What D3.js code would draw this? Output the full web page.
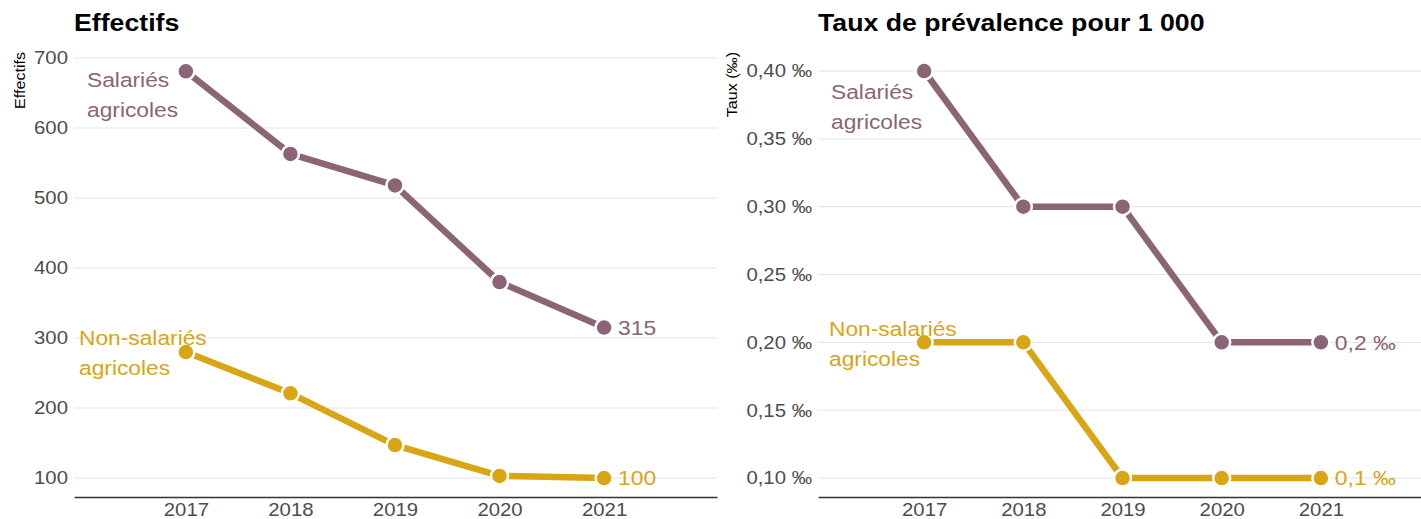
<!DOCTYPE html>
<html>
<head>
<meta charset="utf-8">
<script src="https://cdn.jsdelivr.net/npm/d3@7"></script>
<style>
  body { margin: 0; background: #fff; }
  svg { display: block; font-family: "Liberation Sans", Arial, sans-serif; }
</style>
</head>
<body>
<div id="chart"></div>
<script>
const years = [2017, 2018, 2019, 2020, 2021];

const effSalaries = [681, 563, 518, 380, 315];
const effNonSalaries = [280, 221, 147, 103, 100];
const effTicks = [100, 200, 300, 400, 500, 600, 700];

const tauxSalaries = [0.4, 0.3, 0.3, 0.2, 0.2];
const tauxNonSalaries = [0.2, 0.2, 0.1, 0.1, 0.1];
const tauxTicks = [0.10, 0.15, 0.20, 0.25, 0.30, 0.35, 0.40];

const COLORS = { sal: "#8b6575", non: "#d8a515" };

const width = 1421, height = 519;

const svg = d3.select("#chart").append("svg")
  .attr("width", width)
  .attr("height", height);

const commaFmt = f => v => f(v).replace(".", ",");

// the reference font runs a bit wider than Liberation Sans
function widen (sel, factor) {
  sel.each(function () {
    const len = this.getComputedTextLength();
    d3.select(this)
      .attr("textLength", len * factor)
      .attr("lengthAdjust", "spacingAndGlyphs");
  });
}

function drawPanel (cfg) {
  const g = svg.append("g");

  const x = d3.scaleLinear().domain([2015.93, 2022.08]).range([cfg.left, cfg.right]);
  const y = d3.scaleLinear().domain(cfg.yDomain).range([497, 50]);

  // title
  g.append("text")
    .attr("x", cfg.left)
    .attr("y", 31)
    .attr("font-size", 23)
    .attr("font-weight", "bold")
    .attr("fill", "#000")
    .text(cfg.title)
    .call(widen, 1.16);

  // y axis title
  g.append("text")
    .attr("transform", `translate(${cfg.yTitleX},52) rotate(-90)`)
    .attr("text-anchor", "end")
    .attr("font-size", 14)
    .attr("fill", "#000")
    .text(cfg.yTitle)
    .call(widen, 1.15);

  // gridlines
  g.append("g").selectAll("line")
    .data(cfg.ticks)
    .join("line")
    .attr("x1", cfg.left).attr("x2", Math.min(cfg.right, width))
    .attr("y1", d => y(d)).attr("y2", d => y(d))
    .attr("stroke", "#e3e3e3")
    .attr("stroke-width", 1);

  // y axis labels
  const yAxis = d3.axisLeft(y).tickValues(cfg.ticks).tickFormat(cfg.tickFormat).tickSize(0).tickPadding(6);
  g.append("g")
    .attr("transform", `translate(${cfg.left},0)`)
    .call(yAxis)
    .call(s => s.select(".domain").remove())
    .call(s => s.selectAll("text").attr("font-size", 18.5).attr("fill", "#4d4d4d").attr("font-family", null).call(widen, 1.1));

  // x axis
  const xAxis = d3.axisBottom(x).tickValues(years).tickFormat(d3.format("d")).tickSize(0).tickPadding(6);
  g.append("g")
    .attr("transform", "translate(0,497)")
    .call(xAxis)
    .call(s => s.select(".domain").attr("stroke", "#333").attr("stroke-width", 1.6))
    .call(s => s.selectAll("text").attr("font-size", 18.5).attr("fill", "#4d4d4d").attr("font-family", null).call(widen, 1.1));

  const line = d3.line().x((d, i) => x(years[i])).y(d => y(d));

  cfg.series.forEach(s => {
    g.append("path")
      .datum(s.values)
      .attr("d", line)
      .attr("fill", "none")
      .attr("stroke", s.color)
      .attr("stroke-width", 6.5)
      .attr("stroke-linejoin", "round");

    g.append("g").selectAll("circle")
      .data(s.values)
      .join("circle")
      .attr("cx", (d, i) => x(years[i]))
      .attr("cy", d => y(d))
      .attr("r", 8.5)
      .attr("fill", s.color)
      .attr("stroke", "#fff")
      .attr("stroke-width", 2.5);

    // end value label
    const last = s.values[s.values.length - 1];
    g.append("text")
      .attr("x", x(years[years.length - 1]) + 14)
      .attr("y", y(last))
      .attr("dy", "0.35em")
      .attr("font-size", 21)
      .attr("fill", s.color)
      .text(cfg.endFormat(last))
      .call(widen, 1.09);

    // series name label, one text per line
    g.append("g").selectAll("text")
      .data(s.label)
      .join("text")
      .attr("x", s.labelX)
      .attr("y", (d, i) => s.labelY + i * 29.5)
      .attr("font-size", 20.5)
      .attr("fill", s.color)
      .text(d => d)
      .call(widen, 1.11);
  });
}

drawPanel({
  title: "Effectifs",
  yTitle: "Effectifs",
  yTitleX: 25,
  left: 74,
  right: 717,
  yDomain: [72.9, 711.4],
  ticks: effTicks,
  tickFormat: d3.format("d"),
  endFormat: d3.format("d"),
  series: [
    { values: effSalaries, color: COLORS.sal, label: ["Salariés", "agricoles"], labelX: 87, labelY: 87 },
    { values: effNonSalaries, color: COLORS.non, label: ["Non-salariés", "agricoles"], labelX: 79, labelY: 345 }
  ]
});

drawPanel({
  title: "Taux de prévalence pour 1 000",
  yTitle: "Taux (‰)",
  yTitleX: 737,
  left: 818,
  right: 1428,
  yDomain: [0.086, 0.4155],
  ticks: tauxTicks,
  tickFormat: v => commaFmt(d3.format(".2f"))(v) + " ‰",
  endFormat: v => commaFmt(d3.format(".1f"))(v) + " ‰",
  series: [
    { values: tauxSalaries, color: COLORS.sal, label: ["Salariés", "agricoles"], labelX: 831, labelY: 99 },
    { values: tauxNonSalaries, color: COLORS.non, label: ["Non-salariés", "agricoles"], labelX: 829, labelY: 336 }
  ]
});
</script>
</body>
</html>
